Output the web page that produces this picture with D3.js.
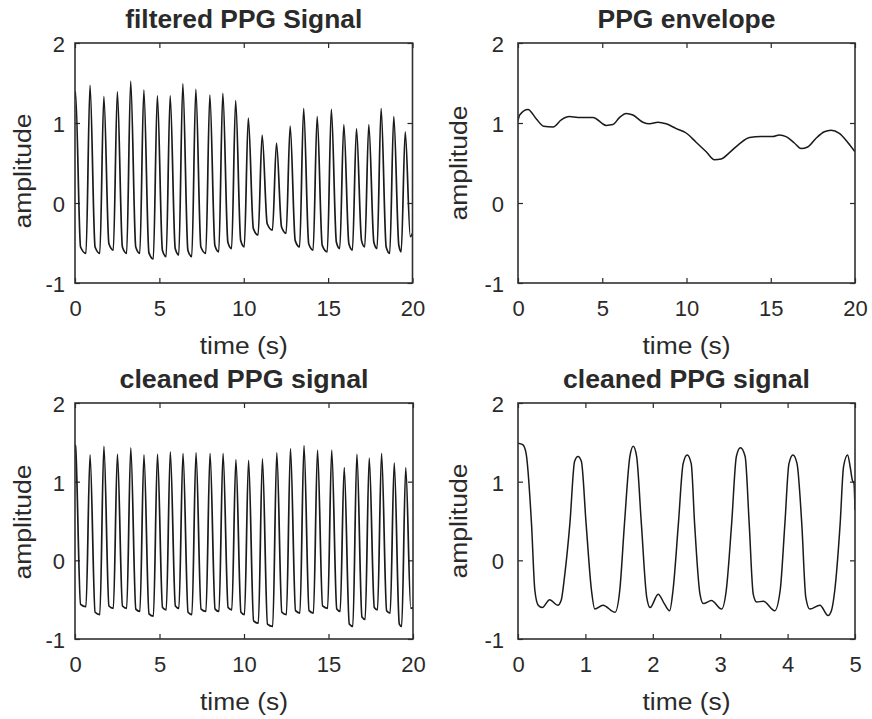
<!DOCTYPE html>
<html>
<head>
<meta charset="utf-8">
<script src="https://cdn.jsdelivr.net/npm/d3@7"></script>
<style>
  html, body { margin: 0; padding: 0; background: #ffffff; }
  svg { display: block; }
  text { font-family: "Liberation Sans", Arial, Helvetica, sans-serif; fill: #2a2a2a; }
</style>
</head>
<body>
<svg id="chart" width="872" height="719"></svg>
<script>
// ---------------- data ----------------
// beat (systolic peak) times shared by the filtered and cleaned 20 s signals
const beatTimes = [0.03, 0.89, 1.71, 2.51, 3.30, 4.08, 4.88, 5.64, 6.39, 7.16, 7.99, 8.76, 9.52,
                   10.27, 11.09, 11.94, 12.75, 13.55, 14.35, 15.19, 15.93, 16.68, 17.41, 18.14, 18.89, 19.57];

// filtered PPG signal: peak amplitude of each beat and trough that follows it
const filtPeakV   = [1.39, 1.47, 1.33, 1.39, 1.52, 1.41, 1.34, 1.34, 1.49, 1.42, 1.35, 1.37, 1.28,
                     1.06, 0.85, 0.75, 0.96, 1.18, 1.08, 1.17, 0.98, 0.93, 0.98, 1.18, 1.08, 0.89];
const filtTroughV = [-0.63, -0.63, -0.59, -0.63, -0.63, -0.70, -0.67, -0.65, -0.67, -0.63, -0.61, -0.57, -0.55,
                     -0.40, -0.34, -0.38, -0.55, -0.59, -0.61, -0.57, -0.59, -0.55, -0.57, -0.63, -0.61, -0.42];
const filtStartV = 1.30, filtEndV = -0.38;

// cleaned PPG signal (20 s)
const cleanPeakV   = [1.45, 1.34, 1.45, 1.35, 1.43, 1.34, 1.35, 1.38, 1.36, 1.37, 1.36, 1.36, 1.28,
                      1.27, 1.29, 1.37, 1.42, 1.46, 1.40, 1.40, 1.18, 1.35, 1.30, 1.36, 1.24, 1.18];
const cleanTroughV = [-0.59, -0.69, -0.61, -0.61, -0.65, -0.71, -0.63, -0.61, -0.69, -0.65, -0.65, -0.63, -0.69,
                      -0.80, -0.84, -0.69, -0.67, -0.67, -0.61, -0.65, -0.84, -0.75, -0.63, -0.67, -0.84, -0.61];
const cleanStartV = 1.47, cleanEndV = -0.60;

// PPG envelope
const envT = [0, 0.10, 0.59, 1.09, 1.52, 2.08, 2.57, 3.06, 3.56, 4.45, 5.24, 5.63, 6.03, 6.42, 6.82,
              7.41, 7.81, 8.30, 8.79, 9.39, 9.98, 10.57, 11.17, 11.66, 12.06, 12.55, 13.14, 13.74,
              14.43, 15.12, 15.51, 15.91, 16.40, 16.80, 17.19, 17.69, 18.18, 18.58, 19.07, 19.56, 20];
const envV = [1.03, 1.10, 1.17, 1.05, 0.96, 0.95, 1.04, 1.08, 1.07, 1.07, 0.97, 0.98, 1.07, 1.12, 1.10,
              1.01, 0.99, 1.01, 0.99, 0.93, 0.875, 0.76, 0.64, 0.54, 0.55, 0.63, 0.74, 0.82,
              0.83, 0.83, 0.85, 0.83, 0.75, 0.68, 0.70, 0.81, 0.89, 0.91, 0.87, 0.76, 0.64];

// cleaned PPG signal, first 5 s
const zoomT = [0, 0.07, 0.12, 0.20, 0.25, 0.30, 0.36, 0.47, 0.59, 0.64, 0.69, 0.77, 0.84, 0.89, 0.94,
               1.01, 1.09, 1.14, 1.26, 1.44, 1.51, 1.58, 1.66, 1.71, 1.76, 1.83, 1.91, 1.96, 2.08,
               2.17, 2.25, 2.30, 2.38, 2.45, 2.51, 2.57, 2.62, 2.70, 2.75, 2.87, 3.02, 3.09, 3.17,
               3.24, 3.30, 3.37, 3.43, 3.49, 3.54, 3.64, 3.81, 3.89, 3.96, 4.02, 4.08, 4.14, 4.21,
               4.27, 4.33, 4.48, 4.60, 4.65, 4.70, 4.78, 4.83, 4.89, 4.93, 4.96, 4.985, 5.0];
const zoomV = [1.49, 1.47, 1.36, 0.47, -0.38, -0.57, -0.60, -0.50, -0.57, -0.51, -0.21, 0.47, 1.26, 1.32, 1.26,
               0.47, -0.38, -0.62, -0.57, -0.66, -0.38, 0.47, 1.32, 1.45, 1.32, 0.47, -0.47, -0.60, -0.43,
               -0.55, -0.64, -0.38, 0.47, 1.23, 1.34, 1.23, 0.47, -0.43, -0.55, -0.51, -0.62, -0.38, 0.47,
               1.32, 1.43, 1.32, 0.47, -0.43, -0.53, -0.52, -0.64, -0.38, 0.47, 1.23, 1.34, 1.23, 0.47,
               -0.47, -0.62, -0.57, -0.70, -0.64, -0.38, 0.47, 1.19, 1.34, 1.18, 1.02, 0.98, 0.64];

// tick labels
const yTicks = [-1, 0, 1, 2];
const xTicks20 = [0, 5, 10, 15, 20];
const xTicks5 = [0, 1, 2, 3, 4, 5];
const titles = ["filtered PPG Signal", "PPG envelope", "cleaned PPG signal", "cleaned PPG signal"];
const xLabel = "time (s)";
const yLabel = "amplitude";

// ---------------- build series ----------------
function beatSeries(times, peaks, troughs, startV, endV, fallLift) {
  const pts = [[0, startV]];
  const n = times.length;
  for (let i = 0; i < n; i++) {
    pts.push([times[i], peaks[i]]);
    if (i < n - 1) {
      pts.push([times[i] + 0.3, troughs[i] + fallLift]);
      pts.push([times[i + 1] - 0.24, troughs[i]]);
    } else {
      pts.push([Math.min(times[i] + 0.3, 19.92), troughs[i]]);
      pts.push([20, endV]);
    }
  }
  return pts;
}
const filtered = beatSeries(beatTimes, filtPeakV, filtTroughV, filtStartV, filtEndV, 0.08);
const cleaned = beatSeries(beatTimes, cleanPeakV, cleanTroughV, cleanStartV, cleanEndV, 0.03);
const envelope = envT.map((t, i) => [t, envV[i]]);
const cleaned5 = zoomT.map((t, i) => [t, zoomV[i]]);

// ---------------- layout ----------------
const panels = [
  { left: 75,  right: 412.5, top: 43,  bottom: 283, title: titles[0], titleLen: 237, xMax: 20, xTicks: xTicks20, data: filtered, labX: 31,  labY: 171, yPad: 10, sw: 1.7 },
  { left: 518, right: 855,   top: 43,  bottom: 283, title: titles[1], titleLen: 178, xMax: 20, xTicks: xTicks20, data: envelope, labX: 467, labY: 163, yPad: 14, sw: 1.5 },
  { left: 75,  right: 413,   top: 403, bottom: 639, title: titles[2], titleLen: 249, xMax: 20, xTicks: xTicks20, data: cleaned,  labX: 31,  labY: 522, yPad: 10, sw: 1.7 },
  { left: 518, right: 855,   top: 403, bottom: 639, title: titles[3], titleLen: 247, xMax: 5,  xTicks: xTicks5,  data: cleaned5, labX: 467, labY: 521, yPad: 14, sw: 1.5 }
];

const svg = d3.select("#chart");
const ink = "#262626";

panels.forEach((p, idx) => {
  const x = d3.scaleLinear().domain([0, p.xMax]).range([p.left, p.right]);
  const y = d3.scaleLinear().domain([-1, 2]).range([p.bottom, p.top]);
  const g = svg.append("g");

  const clipId = "clip" + idx;
  svg.append("clipPath").attr("id", clipId)
    .append("rect").attr("x", p.left).attr("y", p.top)
    .attr("width", p.right - p.left).attr("height", p.bottom - p.top);

  // axes (ticks inside, MATLAB style)
  const fmt = d => String(d);
  const bottomAxis = g.append("g").attr("transform", `translate(0,${p.bottom})`)
    .call(d3.axisBottom(x).tickValues(p.xTicks).tickFormat(fmt).tickSize(-5).tickPadding(17));
  const topAxis = g.append("g").attr("transform", `translate(0,${p.top})`)
    .call(d3.axisTop(x).tickValues(p.xTicks).tickFormat("").tickSize(-5));
  const leftAxis = g.append("g").attr("transform", `translate(${p.left},0)`)
    .call(d3.axisLeft(y).tickValues(yTicks).tickFormat(fmt).tickSize(-5).tickPadding(p.yPad));
  const rightAxis = g.append("g").attr("transform", `translate(${p.right},0)`)
    .call(d3.axisRight(y).tickValues(yTicks).tickFormat("").tickSize(-5));

  [bottomAxis, topAxis, leftAxis, rightAxis].forEach(a => {
    a.select(".domain").remove();
    a.selectAll(".tick line").attr("stroke", ink).attr("stroke-width", 1.2);
    a.selectAll(".tick text").attr("font-size", 22).attr("fill", "#2a2a2a")
      .attr("font-family", "Liberation Sans, Arial, sans-serif");
  });
  leftAxis.selectAll(".tick text").attr("dy", "0.38em");

  // data line
  const line = d3.line().x(d => x(d[0])).y(d => y(d[1])).curve(d3.curveMonotoneX);
  g.append("path").datum(p.data)
    .attr("clip-path", `url(#${clipId})`)
    .attr("fill", "none").attr("stroke", "#1a1a1a")
    .attr("stroke-width", p.sw).attr("stroke-linejoin", "round")
    .attr("d", line);

  // box
  g.append("rect").attr("x", p.left).attr("y", p.top)
    .attr("width", p.right - p.left).attr("height", p.bottom - p.top)
    .attr("fill", "none").attr("stroke", "#303030").attr("stroke-width", 1.6);

  // title
  g.append("text").attr("x", (p.left + p.right) / 2).attr("y", p.top - 15)
    .attr("text-anchor", "middle").attr("font-size", 25).attr("font-weight", "bold")
    .attr("fill", "#1a1a1a")
    .attr("textLength", p.titleLen).attr("lengthAdjust", "spacingAndGlyphs")
    .text(p.title);

  // x label
  g.append("text").attr("x", (p.left + p.right) / 2).attr("y", p.bottom + 71)
    .attr("text-anchor", "middle").attr("font-size", 23)
    .attr("textLength", 88).attr("lengthAdjust", "spacingAndGlyphs")
    .text(xLabel);

  // y label
  g.append("text").attr("transform", `translate(${p.labX},${p.labY}) rotate(-90)`)
    .attr("text-anchor", "middle").attr("font-size", 23)
    .attr("textLength", 115).attr("lengthAdjust", "spacingAndGlyphs")
    .text(yLabel);
});
</script>
</body>
</html>
